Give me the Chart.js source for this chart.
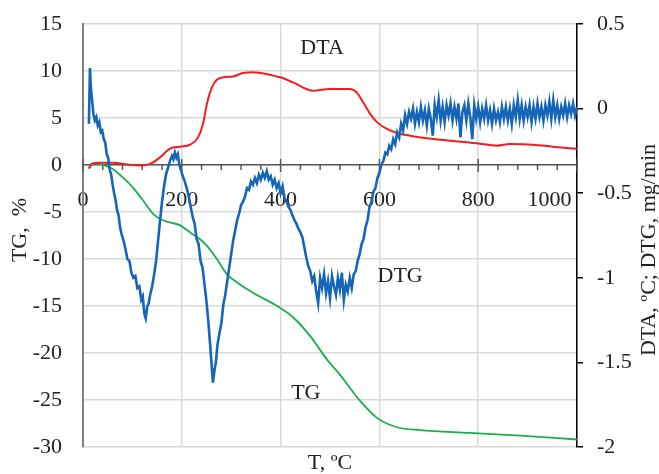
<!DOCTYPE html>
<html>
<head>
<meta charset="utf-8">
<script src="https://cdn.jsdelivr.net/npm/chart.js@4.4.1/dist/chart.umd.min.js"></script>
<style>
  html, body { margin: 0; padding: 0; background: #fff; }
  #chart { display: block; }
</style>
</head>
<body>
<canvas id="chart" width="659" height="474"></canvas>
<script>
// TG, % (left axis)
const tgTemp = [12, 18, 26, 36, 46, 61, 81, 101, 122, 142, 156, 176, 196, 210, 223, 237, 251, 271, 291, 312,
  344, 393, 425, 460, 494, 520, 561, 595, 636, 682, 783, 885, 1000];
const tgVal = [-0.3, 0.05, 0.15, 0.1, -0.1, -0.46, -1.35, -2.4, -3.8, -5.2, -5.75, -6.1, -6.4, -6.9, -7.4, -7.9, -8.6, -10.0, -11.6, -12.5,
  -13.6, -15.0, -16.2, -18.2, -20.7, -22.3, -25.1, -26.9, -27.9, -28.2, -28.5, -28.8, -29.2];

// DTA (right axis)
const dtaTemp = [12, 18, 34, 60, 90, 115, 136, 156, 176, 196, 217, 233, 243, 251, 261, 271, 284, 304, 324, 344,
  385, 399, 425, 466, 500, 540, 554, 567, 581, 595, 615, 636, 662, 709, 797, 838, 864, 911, 951, 1000];
const dtaVal = [-0.355, -0.325, -0.32, -0.32, -0.33, -0.337, -0.327, -0.288, -0.236, -0.225, -0.213, -0.17, -0.09, 0.03, 0.126, 0.17, 0.185, 0.19, 0.21, 0.215,
  0.195, 0.185, 0.155, 0.106, 0.116, 0.116, 0.096, 0.037, -0.03, -0.08, -0.12, -0.144, -0.16, -0.18, -0.205, -0.219, -0.209, -0.213, -0.225, -0.238];

// DTG, mg/min (right axis) - noisy signal
const dtgTemp = [
  12, 14, 16, 18, 21, 24, 27, 30, 33, 36, 39, 42, 45, 48, 51, 54, 57, 60,
  63, 66, 69, 72, 75, 78, 82, 86, 90, 94, 98, 102, 106, 110, 114, 118, 121, 124, 127, 130, 133, 136,
  140, 144, 148, 152, 156, 160, 164, 168, 172, 176, 180, 183, 186, 189, 192, 195, 198,
  202, 206, 210, 214, 218, 222, 226, 230, 234, 238, 242, 246, 250, 254, 257, 260, 263, 266, 269, 272,
  276, 280, 284, 288, 292, 296, 300, 304, 308, 312,
  316, 320, 324, 328, 332, 336, 340, 344, 348, 352, 356, 360, 364, 368, 372, 376, 380, 384, 388, 392,
  396, 400, 404, 408, 412, 416, 420, 424, 428, 432, 436, 440,
  444, 448, 452, 456, 460, 464, 468, 472, 476, 480, 484, 488, 492, 496, 500, 504, 508, 512, 516, 520,
  524, 528, 532, 536, 540, 544, 548, 552, 556,
  560, 564, 568, 572, 576, 580, 584, 588, 592, 596, 600, 604, 608, 612, 616, 620, 624, 628, 632, 636,
  640, 644, 648, 652, 656, 660,
  664, 668, 672, 676, 680, 684, 688, 692, 696, 700, 704, 708, 712, 716, 720, 724, 728, 732, 736, 740,
  744, 748, 752, 756, 760, 764, 768, 772, 776, 780, 784, 788, 792, 796, 800, 804, 808, 812, 816, 820,
  824, 828, 832, 836, 840, 844, 848, 852, 856, 860, 864, 868, 872, 876, 880, 884, 888, 892, 896, 900,
  904, 908, 912, 916, 920, 924, 928, 932, 936, 940, 944, 948, 952, 956, 960, 964, 968, 972, 976, 980,
  984, 988, 992, 996, 1000];
const dtgVal = [
  -0.09, 0.24, 0.12, 0.06, -0.03, -0.07, -0.05, -0.1, -0.08, -0.14, -0.13, -0.18, -0.2, -0.27, -0.29, -0.36, -0.39, -0.45,
  -0.50, -0.54, -0.60, -0.63, -0.70, -0.74, -0.78, -0.83, -0.89, -0.90, -0.97, -1.00, -0.99, -1.06, -1.05, -1.13, -1.11, -1.21, -1.24, -1.17, -1.15, -1.10,
  -1.05, -0.98, -0.90, -0.78, -0.66, -0.55, -0.46, -0.39, -0.35, -0.31, -0.28, -0.30, -0.26, -0.29, -0.27, -0.33, -0.36,
  -0.40, -0.43, -0.47, -0.52, -0.58, -0.64, -0.68, -0.77, -0.80, -0.90, -0.94, -1.04, -1.14, -1.27, -1.38, -1.50, -1.62, -1.55, -1.50, -1.40,
  -1.33, -1.27, -1.16, -1.10, -1.02, -0.94, -0.86, -0.78, -0.72, -0.66,
  -0.62, -0.57, -0.55, -0.52, -0.47, -0.48, -0.43, -0.45, -0.41, -0.44, -0.39, -0.42, -0.38, -0.41, -0.37, -0.42, -0.40, -0.45, -0.42, -0.47,
  -0.44, -0.50, -0.46, -0.53, -0.55, -0.58, -0.60, -0.63, -0.66, -0.68, -0.71, -0.73,
  -0.76, -0.82, -0.88, -0.93, -0.96, -1.02, -0.99, -1.08, -1.15, -1.00, -1.06, -0.98, -1.09, -1.02, -1.12, -0.99, -1.05, -1.10, -1.00, -1.07,
  -0.97, -1.13, -1.04, -1.08, -1.00, -1.06, -0.98, -0.96, -0.90,
  -0.86, -0.80, -0.77, -0.70, -0.66, -0.58, -0.55, -0.49, -0.47, -0.41, -0.38, -0.33, -0.31, -0.26, -0.27, -0.22, -0.24, -0.18, -0.21, -0.14,
  -0.17, -0.09, -0.13, -0.04, -0.09, -0.02,
  -0.06, 0.0, -0.09, -0.02, -0.08, 0.01, -0.07, -0.01, -0.10, 0.0, -0.06, -0.16, 0.02, -0.05, 0.05, -0.07, 0.01, -0.08, 0.02, -0.04,
  0.03, -0.07, 0.01, -0.06, 0.03, -0.17, -0.02, 0.02, -0.07, 0.03, -0.05, -0.18, 0.02, -0.06, 0.01, -0.08, 0.0, -0.06, 0.02, -0.07,
  -0.01, -0.09, 0.0, -0.07, -0.02, -0.08, 0.01, -0.06, 0.01, -0.07, 0.0, -0.09, 0.02, -0.05, 0.05, -0.06, 0.02, -0.07, 0.01, -0.05,
  0.02, -0.08, 0.01, -0.06, 0.03, -0.05, 0.01, -0.07, 0.02, -0.04, 0.04, -0.06, 0.05, -0.05, 0.02, -0.06, 0.01, -0.04, 0.03, -0.05,
  0.02, -0.03, 0.03, -0.04, 0.01];

// labels written inside the plot, placed in data units (T, TG %)
const curveNotes = [
  { text: 'DTA', t: 484, v: 12.45 },
  { text: 'DTG', t: 642, v: -11.8 },
  { text: 'TG', t: 451, v: -24.3 },
];

const FONT = '"Liberation Serif", "Times New Roman", serif';
const TEXT = '#222';

function toPoints(xs, ys) {
  return xs.map((x, i) => ({ x: x, y: ys[i] }));
}

// chart area is fixed by layout padding, so drop the label padding scales add
function noPad(s) {
  s.paddingTop = 0;
  s.paddingBottom = 0;
  s.paddingLeft = 0;
  s.paddingRight = 0;
}

const extras = {
  id: 'extras',
  beforeDatasetsDraw(chart) {
    const { ctx, scales: { x, y } } = chart;
    const y0 = y.getPixelForValue(0);
    ctx.save();
    ctx.strokeStyle = '#595959';
    ctx.lineWidth = 1.5;
    ctx.beginPath();
    for (let t = 0; t <= 1000; t += 40) {
      const px = x.getPixelForValue(t);
      if (t % 200 === 0) {
        ctx.moveTo(px, y0 - 6);
        ctx.lineTo(px, y0 + 7);
      } else {
        ctx.moveTo(px, y0);
        ctx.lineTo(px, y0 + 5);
      }
    }
    ctx.stroke();
    ctx.restore();
  },
  afterDraw(chart) {
    const { ctx, chartArea, scales: { x, y } } = chart;
    ctx.save();
    ctx.font = '22px ' + FONT;
    ctx.fillStyle = TEXT;
    ctx.textAlign = 'center';
    ctx.textBaseline = 'middle';
    curveNotes.forEach(n => {
      ctx.fillText(n.text, x.getPixelForValue(n.t), y.getPixelForValue(n.v));
    });
    ctx.fillText('T, ºC', (chartArea.left + chartArea.right) / 2, 463);

    ctx.save();
    ctx.translate(20, 230);
    ctx.rotate(-Math.PI / 2);
    ctx.fillText('TG,  %', 0, 0);
    ctx.restore();

    ctx.save();
    ctx.translate(649, 250);
    ctx.rotate(-Math.PI / 2);
    ctx.fillText('DTA, ºC; DTG, mg/min', 0, 0);
    ctx.restore();
    ctx.restore();
  }
};

Chart.defaults.font.family = FONT;
Chart.defaults.font.size = 22;
Chart.defaults.color = TEXT;

new Chart(document.getElementById('chart').getContext('2d'), {
  type: 'line',
  data: {
    datasets: [
      {
        label: 'DTG',
        data: toPoints(dtgTemp, dtgVal),
        yAxisID: 'y2',
        borderColor: '#1565b8',
        borderWidth: 2.6,
        pointRadius: 0,
        tension: 0,
      },
      {
        label: 'DTA',
        data: toPoints(dtaTemp, dtaVal),
        yAxisID: 'y2',
        borderColor: '#f01e1e',
        borderWidth: 2,
        pointRadius: 0,
        cubicInterpolationMode: 'monotone',
      },
      {
        label: 'TG',
        data: toPoints(tgTemp, tgVal),
        yAxisID: 'y',
        borderColor: '#19b04b',
        borderWidth: 1.8,
        pointRadius: 0,
        cubicInterpolationMode: 'monotone',
      },
    ]
  },
  options: {
    responsive: false,
    animation: false,
    devicePixelRatio: 1,
    layout: { padding: { left: 0, right: 0, top: 24, bottom: 27 } },
    plugins: {
      legend: { display: false },
      tooltip: { enabled: false },
    },
    scales: {
      x: {
        type: 'linear',
        min: 0,
        max: 1000,
        position: { y: 0 },
        grid: { color: '#d9d9d9', lineWidth: 1.5, drawTicks: false },
        border: { color: '#595959', width: 1.5 },
        ticks: {
          stepSize: 200,
          padding: 22,
          maxRotation: 0,
          autoSkip: false,
          // last label sits inside the plot, as in the original
          callback: v => (v === 1000 ? '1000\u2002\u2002\u2002\u2002\u2002' : String(v)),
        },
        afterFit: noPad,
      },
      y: {
        position: 'left',
        min: -30,
        max: 15,
        grid: { color: '#d9d9d9', lineWidth: 1.5, drawTicks: false },
        border: { color: '#808080', width: 2 },
        ticks: { stepSize: 5, padding: 21, callback: v => String(v) },
        afterFit: s => { noPad(s); s.width = 83; },
      },
      y2: {
        position: 'right',
        min: -2,
        max: 0.5,
        grid: { drawOnChartArea: false, tickLength: 6, tickColor: '#000', lineWidth: 1.5 },
        border: { color: '#000', width: 1.5 },
        ticks: { stepSize: 0.5, padding: 14, callback: v => String(v) },
        afterFit: s => { noPad(s); s.width = 82; },
      },
    }
  },
  plugins: [extras]
});
</script>
</body>
</html>
